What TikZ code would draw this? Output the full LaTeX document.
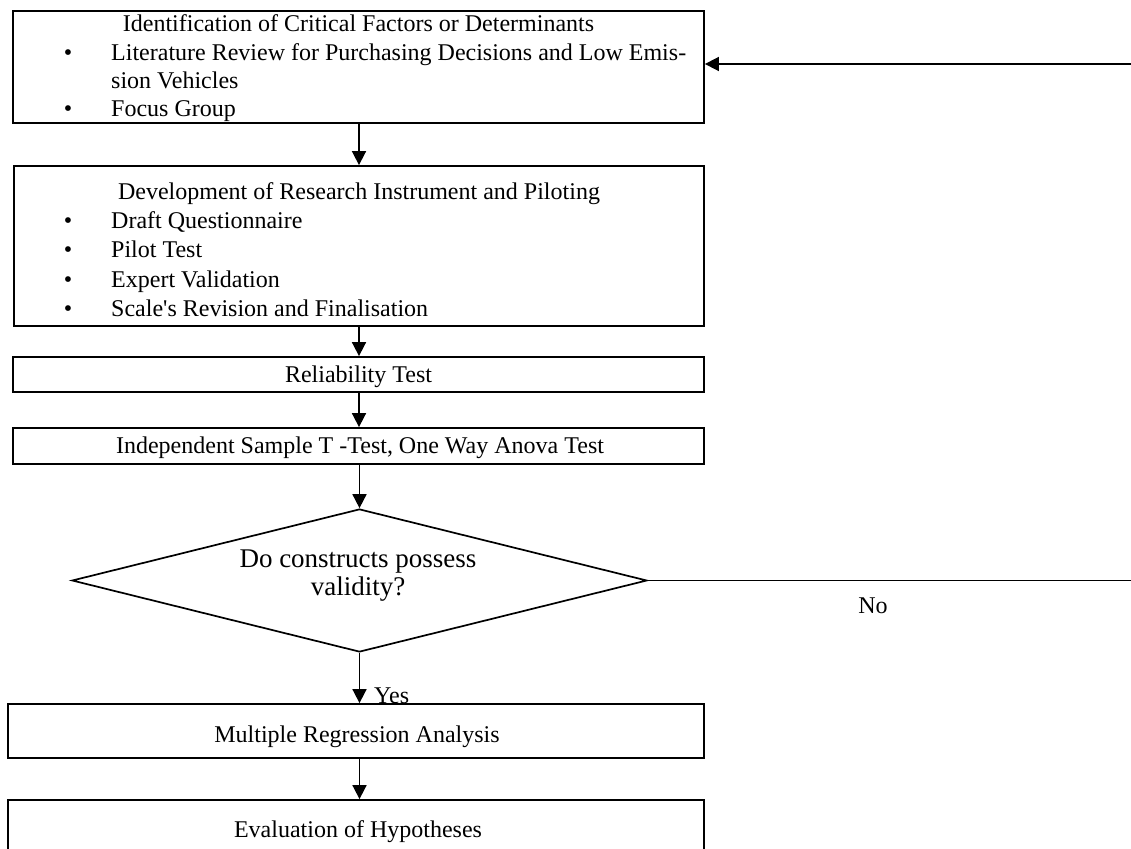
\documentclass[tikz,border=0pt]{standalone}
\usepackage{fontspec}
\setmainfont{Liberation Serif}
\newfontfamily\rawserif{Liberation Serif}
\usetikzlibrary{shapes.geometric,arrows.meta}
\tikzset{
  box/.style={draw=black, line width=1.8bp, rectangle, inner sep=0pt},
  decision/.style={draw=black, line width=1.7bp, diamond, inner sep=0pt},
  conn/.style={line width=1.7bp, -{Triangle[width=14bp,length=14bp]}},
  txt/.style={inner sep=0pt, font=\fontsize{24bp}{29bp}\selectfont},
  bigtxt/.style={inner sep=0pt, font=\fontsize{27bp}{31bp}\selectfont}
}
\begin{document}
\begin{tikzpicture}[x=1bp,y=-1bp]
\useasboundingbox (0,0) rectangle (1131,849);
\clip (0,0) rectangle (1131,849);

% boxes
\node[box, minimum width=691bp, minimum height=112bp] (b1) at (358.5,67) {};
\node[box, minimum width=690bp, minimum height=160bp] (b2) at (359,246) {};
\node[box, minimum width=691bp, minimum height=35bp] (b3) at (358.5,374.5) {};
\node[box, minimum width=691bp, minimum height=36bp] (b4) at (358.5,446) {};
\node[decision, minimum width=575bp, minimum height=143bp] (dia) at (359.5,580.5) {};
\node[box, minimum width=696bp, minimum height=54bp] (b5) at (356,731) {};
\node[box, minimum width=696bp, minimum height=54bp] (b6) at (356,827) {};

% box 1 text
\node[txt, anchor=base] (t1) at (358.5,31) {Identification of Critical Factors or Determinants};
\node[txt, anchor=base] (u1) at (68,60) {\textbullet};
\node[txt, anchor=base west] (l1) at (111,60) {\makebox[575bp][s]{Literature Review for Purchasing Decisions and Low Emis-}};
\node[txt, anchor=base west] (l1b) at (111,88) {sion Vehicles};
\node[txt, anchor=base] (u2) at (68,116) {\textbullet};
\node[txt, anchor=base west] (l2) at (111,116) {Focus Group};

% box 2 text
\node[txt, anchor=base] (t2) at (359,199) {Development of Research Instrument and Piloting};
\node[txt, anchor=base] (u3) at (68,228) {\textbullet};
\node[txt, anchor=base west] (l3) at (111,228) {Draft Questionnaire};
\node[txt, anchor=base] (u4) at (68,257) {\textbullet};
\node[txt, anchor=base west] (l4) at (111,257) {Pilot Test};
\node[txt, anchor=base] (u5) at (68,287) {\textbullet};
\node[txt, anchor=base west] (l5) at (111,287) {Expert Validation};
\node[txt, anchor=base] (u6) at (68,316) {\textbullet};
\node[txt, anchor=base west] (l6) at (111,316) {Scale{\rawserif'}s Revision and Finalisation};

% other texts
\node[txt, anchor=base] (t3) at (358.5,382) {Reliability Test};
\node[txt, anchor=base] (t4) at (360,453) {Independent Sample T -Test, One Way Anova Test};
\node[bigtxt, anchor=base] (q1) at (358,567) {Do constructs possess};
\node[bigtxt, anchor=base] (q2) at (358,595) {validity?};
\node[txt, anchor=base] (t5) at (357,742) {Multiple Regression Analysis};
\node[txt, anchor=base] (t6) at (358,837) {Evaluation of Hypotheses};
\node[txt, anchor=base west] (yes) at (374,703) {Yes};
\node[txt, anchor=base] (no) at (873,613) {No};

% connectors
\draw[conn] (b1.south -| b2.north) -- (b2.north);
\draw[conn] (b2.south) -- (b2.south |- b3.north);
\draw[conn] (b3.south -| b2.south) -- (b2.south |- b4.north);
\draw[conn] (b4.south -| dia.north) -- (dia.north);
\draw[conn] (dia.south) -- (dia.south |- b5.north);
\draw[conn] (b5.south -| dia.south) -- (dia.south |- b6.north);
\draw[conn] (dia.east) -- (1160,580.5) |- ([yshift=3bp]b1.east);
\end{tikzpicture}
\end{document}
